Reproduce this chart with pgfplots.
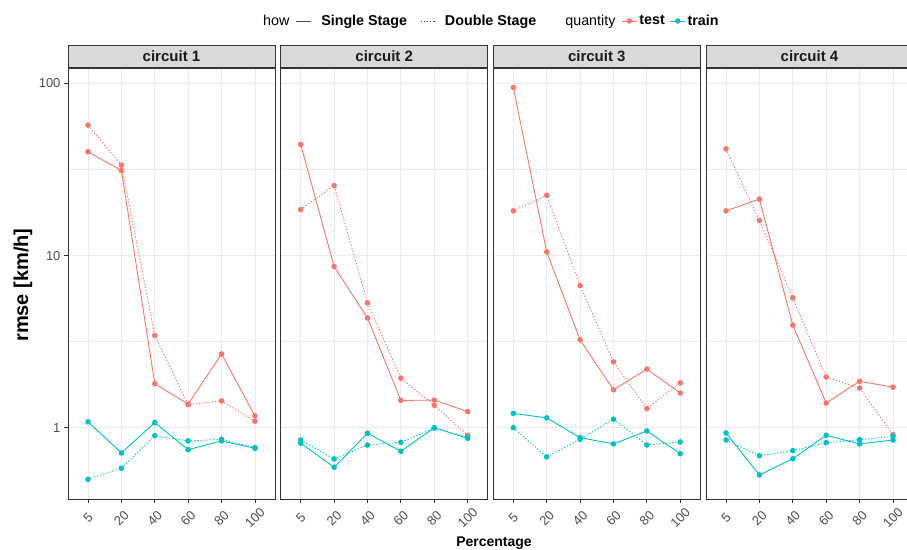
\documentclass[border=0pt]{standalone}
\usepackage{pgfplots}
\pgfplotsset{compat=1.18}
\usepackage{fontspec}
\setmainfont{Liberation Sans}
\definecolor{testc}{HTML}{F8766D}
\definecolor{trainc}{HTML}{00BFC4}
\definecolor{grey20}{HTML}{333333}
\definecolor{grey30}{HTML}{4D4D4D}
\definecolor{grey92}{HTML}{EBEBEB}
\definecolor{grey85}{HTML}{D9D9D9}
\definecolor{grey10}{HTML}{1A1A1A}
\pgfplotsset{
 every axis/.append style={
  scale only axis, width=207pt, height=431pt,
  ymode=log, ymin=0.385, ymax=123, xmin=-0.6, xmax=5.6,
  xtick={0,...,5}, xticklabels={5,20,40,60,80,100},
  ytick={1,10,100}, minor ytick={3.1623,31.623},
  xmajorgrids, ymajorgrids, yminorgrids,
  major grid style={grey92, line width=0.9pt},
  minor grid style={grey92, line width=0.5pt},
  axis line style={grey20, line width=0.9pt},
  tick style={grey20, line width=0.9pt},
  tick align=outside, major tick length=4pt, minor tick length=0pt,
  xtick pos=bottom, ytick pos=left,
  tick label style={font=\fontsize{13}{13}\selectfont, text=grey30},
  xticklabel style={anchor=center, inner sep=0.5pt, yshift=-15pt, rotate=45},
 },
 every axis title/.style={at={(0.5,1)}, anchor=south, fill=grey85, draw=grey20, line width=0.9pt,
    minimum width=207pt, minimum height=22pt, inner sep=0pt,
    font=\fontsize{15}{15}\selectfont\bfseries, text=grey10},
 every axis plot/.append style={line width=0.9pt, mark=*, mark size=2.3pt, mark options={solid}},
 lineimg/.style={legend image code/.code={\draw[##1] (0pt,0pt)--(15pt,0pt);}},
 markimg/.style={legend image code/.code={\draw[mark repeat=2,mark phase=2,##1] plot coordinates {(0pt,0pt) (7.5pt,0pt) (15pt,0pt)};}},
}
\begin{document}
\begin{tikzpicture}
\useasboundingbox (0,0) rectangle (907pt,549pt);

% ---------------- circuit 1
\begin{axis}[at={(68pt,50pt)}, anchor=south west, title={circuit 1},
  yticklabels={1,10,100},
  legend columns=6,
  legend style={at={(2.043,1.109)}, anchor=center, draw=none, fill=none,
    font=\fontsize{14.3}{14.3}\selectfont,
    /tikz/column 2/.style={column sep=4pt},
    /tikz/column 3/.style={column sep=8pt},
    /tikz/column 4/.style={column sep=11pt},
    /tikz/column 5/.style={column sep=7pt},
    /tikz/column 6/.style={column sep=25pt},
    /tikz/column 8/.style={column sep=4pt},
    /tikz/column 10/.style={column sep=3pt}}]
\addlegendimage{empty legend}
\addlegendentry{how}
\addlegendimage{grey30, no markers, line width=0.9pt, lineimg}
\addlegendentry{\textbf{Single Stage}}
\addlegendimage{grey30, no markers, line width=0.9pt, dash pattern=on 1.3pt off 1.9pt, lineimg}
\addlegendentry{\textbf{Double Stage}}
\addlegendimage{empty legend}
\addlegendentry{quantity}
\addlegendimage{testc, mark=*, mark size=2.2pt, line width=0.9pt, markimg}
\addlegendentry{\textbf{test}}
\addlegendimage{trainc, mark=*, mark size=2.2pt, line width=0.9pt, markimg}
\addlegendentry{\textbf{train}}
\addplot[forget plot, testc, solid] coordinates {(0,40.1) (1,31.2) (2,1.80) (3,1.37) (4,2.68) (5,1.17)};
\addplot[forget plot, testc, dash pattern=on 1.3pt off 1.9pt] coordinates {(0,57.3) (1,33.5) (2,3.43) (3,1.36) (4,1.43) (5,1.09)};
\addplot[forget plot, trainc, solid] coordinates {(0,1.08) (1,0.713) (2,1.07) (3,0.745) (4,0.837) (5,0.759)};
\addplot[forget plot, trainc, dash pattern=on 1.3pt off 1.9pt] coordinates {(0,0.501) (1,0.581) (2,0.898) (3,0.837) (4,0.856) (5,0.765)};
\end{axis}

% ---------------- circuit 2
\begin{axis}[yticklabels={}, ymajorticks=false, at={(280.7pt,50pt)}, anchor=south west, title={circuit 2}]
\addplot[testc, solid] coordinates {(0,44.2) (1,8.63) (2,4.34) (3,1.44) (4,1.445) (5,1.24)};
\addplot[testc, dash pattern=on 1.3pt off 1.9pt] coordinates {(0,18.5) (1,25.5) (2,5.31) (3,1.94) (4,1.35) (5,0.903)};
\addplot[trainc, solid] coordinates {(0,0.812) (1,0.589) (2,0.928) (3,0.729) (4,1.0) (5,0.867)};
\addplot[trainc, dash pattern=on 1.3pt off 1.9pt] coordinates {(0,0.848) (1,0.658) (2,0.793) (3,0.822) (4,0.995) (5,0.879)};
\end{axis}

% ---------------- circuit 3
\begin{axis}[yticklabels={}, ymajorticks=false, at={(493.3pt,50pt)}, anchor=south west, title={circuit 3}]
\addplot[testc, solid] coordinates {(0,94.8) (1,10.5) (2,3.24) (3,1.66) (4,2.19) (5,1.59)};
\addplot[testc, dash pattern=on 1.3pt off 1.9pt] coordinates {(0,18.2) (1,22.4) (2,6.69) (3,2.41) (4,1.29) (5,1.82)};
\addplot[trainc, solid] coordinates {(0,1.21) (1,1.14) (2,0.875) (3,0.804) (4,0.957) (5,0.706)};
\addplot[trainc, dash pattern=on 1.3pt off 1.9pt] coordinates {(0,1.0) (1,0.676) (2,0.856) (3,1.12) (4,0.793) (5,0.826)};
\end{axis}

% ---------------- circuit 4
\begin{axis}[yticklabels={}, ymajorticks=false, at={(706pt,50pt)}, anchor=south west, title={circuit 4}]
\addplot[testc, solid] coordinates {(0,18.2) (1,21.3) (2,3.94) (3,1.39) (4,1.86) (5,1.72)};
\addplot[testc, dash pattern=on 1.3pt off 1.9pt] coordinates {(0,41.7) (1,16.0) (2,5.68) (3,1.97) (4,1.70) (5,0.91)};
\addplot[trainc, solid] coordinates {(0,0.931) (1,0.531) (2,0.66) (3,0.903) (4,0.804) (5,0.848)};
\addplot[trainc, dash pattern=on 1.3pt off 1.9pt] coordinates {(0,0.848) (1,0.687) (2,0.735) (3,0.818) (4,0.851) (5,0.891)};
\end{axis}

\node[rotate=90, font=\fontsize{20}{20}\selectfont\bfseries] at (23pt,264pt) {rmse [km/h]};
\node[anchor=base, font=\fontsize{14}{14}\selectfont\bfseries] at (494pt,3pt) {Percentage};
\end{tikzpicture}
\end{document}
